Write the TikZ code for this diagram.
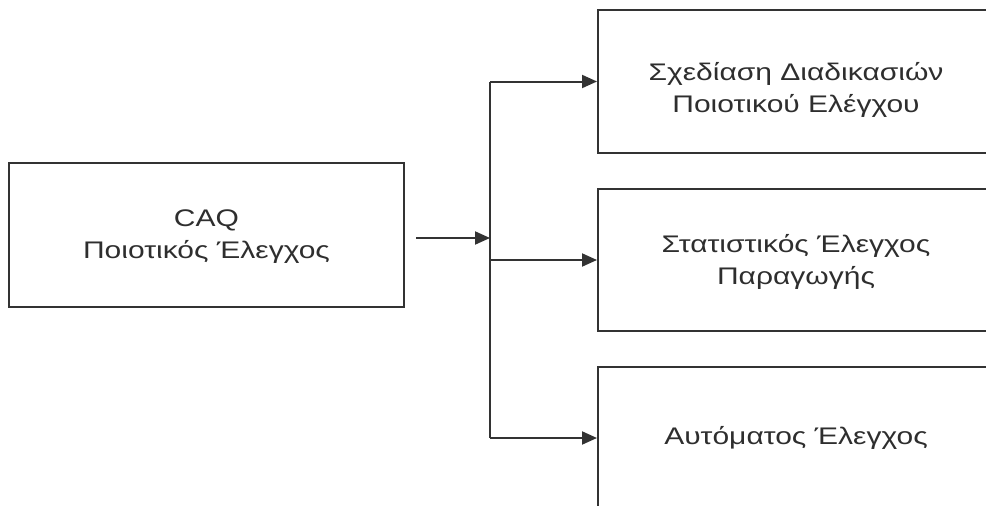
\documentclass[tikz,border=0pt]{standalone}
\usepackage{fontspec}
\setmainfont{Liberation Sans}[FakeStretch=1.25]
\usetikzlibrary{arrows.meta}
\definecolor{ink}{HTML}{333333}
\definecolor{txt}{HTML}{2E2E2E}
\begin{document}
\begin{tikzpicture}[x=1pt,y=-1pt,
  box/.style={draw=ink,line width=2pt,rectangle,inner sep=0pt},
  lbl/.style={text=txt,align=center,font=\fontsize{24}{32}\selectfont},
  link/.style={draw=ink,line width=2pt},
  arr/.style={link,-{Triangle[length=15pt,width=13pt]}}]
  \useasboundingbox (0,0) rectangle (986,506);
  \clip (0,0) rectangle (986,506);
  % source block
  \node[box,minimum width=395pt,minimum height=144pt] (caq) at (206.5,235) {};
  \node[lbl] (caqt) at (206.5,237) {CAQ\\Ποιοτικός Έλεγχος};
  % target blocks (run past the right and bottom edges)
  \node[box,minimum width=394pt,minimum height=143pt] (b1) at (795,81.5) {};
  \node[lbl] (b1t) at (796,90) {Σχεδίαση Διαδικασιών\\Ποιοτικού Ελέγχου};
  \node[box,minimum width=394pt,minimum height=142pt] (b2) at (795,260) {};
  \node[lbl] (b2t) at (796,262) {Στατιστικός Έλεγχος\\Παραγωγής};
  \node[box,minimum width=394pt,minimum height=142pt] (b3) at (795,438) {};
  \node[lbl] (b3t) at (796,438) {Αυτόματος Έλεγχος};
  % distribution bus
  \coordinate (feed) at (416,238);
  \coordinate (split) at (490,238);
  \draw[arr] (feed) -- (split);
  \draw[link] (split |- b1.west) -- (split |- b3.west);
  \draw[arr] (split |- b1.west) -- (b1.west);
  \draw[arr] (split |- b2.west) -- (b2.west);
  \draw[arr] (split |- b3.west) -- (b3.west);
\end{tikzpicture}
\end{document}
